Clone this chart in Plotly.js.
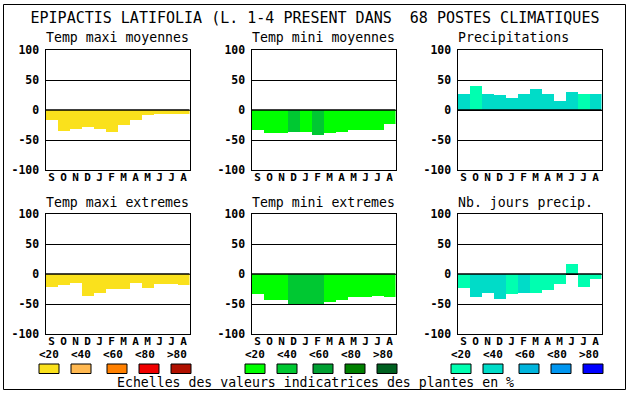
<!DOCTYPE html>
<html>
<head>
<meta charset="utf-8">
<script src="https://cdn.plot.ly/plotly-3.0.1.min.js"></script>
<style>html,body{margin:0;padding:0;background:#fff;}#chart{width:630px;height:394px;}</style>
</head>
<body>
<div id="chart"></div>
<script>
// ---- data ----
const months = ["S","O","N","D","J","F","M","A","M","J","J","A"];
const yTickVals = [-100, -50, 0, 50, 100];
const yTickText = ["-100", "-50", "0", "50", "100"];

const panelTitles = ["Temp maxi moyennes", "Temp mini moyennes", "Precipitations",
                     "Temp maxi extremes", "Temp mini extremes", "Nb. jours precip."];

const tempMaxiMoy  = [-17, -35, -32, -28, -32, -37, -25, -17, -8, -6, -6, -6];
const tempMiniMoy  = [-33, -38, -38, -36, -36, -41, -38, -36, -34, -33, -33, -24];
const precip       = [27, 40, 27, 25, 20, 27, 35, 27, 15, 30, 27, 27];
const tempMaxiExt  = [-21, -18, -15, -36, -31, -25, -25, -15, -23, -17, -17, -18];
const tempMiniExt  = [-33, -43, -44, -50, -50, -50, -47, -43, -38, -38, -37, -38];
const nbJoursPrec  = [-24, -38, -32, -41, -34, -31, -31, -26, -16, 17, -21, -8];

// colour class (0..4 = <20,<40,<60,<80,>80) of each bar
const clsMaxiMoy = [0,0,0,0,0,0,0,0,0,0,0,0];
const clsMiniMoy = [0,0,0,1,0,1,0,0,0,0,0,0];
const clsPrecip  = [1,0,1,1,1,1,1,1,1,1,0,1];
const clsMaxiExt = [0,0,0,0,0,0,0,0,0,0,0,0];
const clsMiniExt = [0,0,0,1,1,1,0,0,0,0,0,0];
const clsNbJours = [0,1,1,1,0,1,0,0,0,0,0,0];

const scaleLabels = ["<20", "<40", "<60", "<80", ">80"];
const paletteTmax = ["#fae11c", "#ffb850", "#ff8000", "#f00000", "#b01000"];
const paletteTmin = ["#00ff00", "#00c832", "#00a032", "#008000", "#006020"];
const palettePrec = ["#00ffb0", "#00dcc8", "#00b4dc", "#0096f0", "#0000ff"];

const mainTitle = "EPIPACTIS LATIFOLIA (L. 1-4 PRESENT DANS  68 POSTES CLIMATIQUES";
const footer = "Echelles des valeurs indicatrices des plantes en %";

// ---- layout ----
const W = 630, H = 394;
const MONO = "DejaVu Sans Mono, Liberation Mono, monospace";
const colLeft = [45.5, 251.5, 457.5];
const rowTop = [50, 214];
const pw = 144, ph = 120;

const series = [tempMaxiMoy, tempMiniMoy, precip, tempMaxiExt, tempMiniExt, nbJoursPrec];
const classes = [clsMaxiMoy, clsMiniMoy, clsPrecip, clsMaxiExt, clsMiniExt, clsNbJours];
const palettes = [paletteTmax, paletteTmin, palettePrec];
const idx = months.map((_, i) => i);

const traces = [];
const layout = {
  width: W, height: H,
  margin: {l: 0, r: 0, t: 0, b: 0},
  paper_bgcolor: "#fff", plot_bgcolor: "#fff",
  showlegend: false,
  bargap: 0,
  title: {text: mainTitle, x: 315 / W, xanchor: "center", xref: "paper",
          y: 1 - 17.5 / H, yanchor: "middle", yref: "container",
          font: {family: MONO, size: 15, color: "#000"}},
  annotations: [], shapes: []
};

for (let p = 0; p < 6; p++) {
  const col = p % 3, row = Math.floor(p / 3);
  const s = p === 0 ? "" : String(p + 1);
  const pal = palettes[col];
  traces.push({
    type: "bar", x: idx, y: series[p], xaxis: "x" + s, yaxis: "y" + s,
    width: 1, marker: {color: classes[p].map(c => pal[c]), line: {width: 0}},
    hoverinfo: "y"
  });
  const l = colLeft[col], t = rowTop[row];
  layout["xaxis" + s] = {
    domain: [l / W, (l + pw) / W], anchor: "y" + s,
    range: [-0.5, 11.5], tickvals: idx, ticktext: months,
    showline: true, mirror: true, linecolor: "#000", linewidth: 1,
    showgrid: false, zeroline: false, ticks: "", fixedrange: true,
    ticklabelstandoff: -3,
    tickfont: {family: MONO, size: 11, weight: "bold", color: "#000"}
  };
  layout["yaxis" + s] = {
    domain: [1 - (t + ph) / H, 1 - t / H], anchor: "x" + s,
    range: [-100, 100], tickvals: yTickVals, ticktext: yTickText,
    showline: true, mirror: true, linecolor: "#000", linewidth: 1,
    showgrid: true, gridcolor: "#000", gridwidth: 1, zeroline: false,
    ticks: "", fixedrange: true, ticklabelstandoff: 3,
    tickfont: {family: MONO, size: 11.5, weight: "bold", color: "#000"}
  };
  layout.shapes.push({type: "line", xref: "x" + s + " domain", yref: "y" + s,
    x0: 0, x1: 1, y0: 0, y1: 0, layer: "above", line: {color: "#000", width: 1.3}});
  layout.annotations.push({text: panelTitles[p], xref: "paper", yref: "paper",
    x: (l - 1.5) / W, xanchor: "left", y: 1 - (t - 12) / H, yanchor: "middle",
    showarrow: false, font: {family: MONO, size: 13.2, color: "#000"}});
}

// legend scales
const groupStart = [49, 255, 461];
const labelOff = [0, 32, 64, 96, 128];
const boxOff = [0, 32, 68, 100, 132];
for (let g = 0; g < 3; g++) {
  for (let k = 0; k < 5; k++) {
    layout.annotations.push({text: scaleLabels[k], xref: "paper", yref: "paper",
      x: (groupStart[g] + labelOff[k]) / W, xanchor: "center",
      y: 1 - 354.5 / H, yanchor: "middle", showarrow: false, borderpad: 0,
      font: {family: MONO, size: 11, weight: "bold", color: "#000"}});
    const cx = groupStart[g] + boxOff[k];
    layout.shapes.push({type: "rect", xref: "paper", yref: "paper",
      x0: (cx - 10) / W, x1: (cx + 10) / W, y0: 1 - 373.5 / H, y1: 1 - 364 / H,
      fillcolor: palettes[g][k], line: {color: "#000", width: 1}});
  }
}
layout.annotations.push({text: footer, xref: "paper", yref: "paper",
  x: 315 / W, xanchor: "center", y: 1 - 382.5 / H, yanchor: "middle",
  showarrow: false, borderpad: 0, font: {family: MONO, size: 13.2, color: "#000"}});

// outer frame
layout.shapes.push({type: "rect", xref: "paper", yref: "paper",
  x0: 3.5 / W, x1: 625.5 / W, y0: 1 - 389.5 / H, y1: 1 - 4.5 / H,
  line: {color: "#000", width: 1}, fillcolor: "rgba(0,0,0,0)", layer: "below"});

Plotly.newPlot("chart", traces, layout, {staticPlot: true, displayModeBar: false});
</script>
</body>
</html>
